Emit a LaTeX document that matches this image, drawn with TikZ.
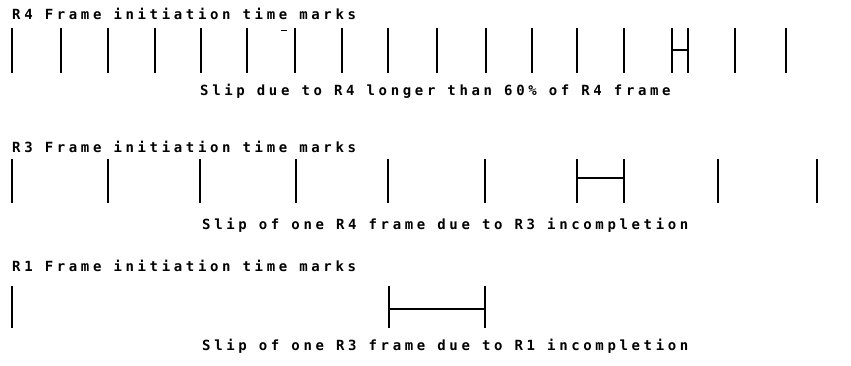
\documentclass[tikz,border=0pt]{standalone}
\usepackage{fontspec}
\newfontfamily\plotfont[LetterSpace=26,BoldFont={DejaVu Sans Mono Bold}]{DejaVu Sans Mono}
\begin{document}
\begin{tikzpicture}[x=1pt,y=-1pt,
  lbl/.style={anchor=base west,inner sep=0pt,font=\plotfont\bfseries\fontsize{14}{16}\selectfont},
  tick/.style={line width=2.3pt},
  bar/.style={line width=1.6pt}]
\useasboundingbox (0,0) rectangle (851,365);
% R4 row
\node[lbl] (t4) at (12,19) {R4 Frame initiation time marks};
\foreach \x in {12,61,108,155,201,247,295,342,388,437,486,532,577,624,672,688,735,786}
  \draw[tick] (\x,28) -- (\x,73);
\draw[line width=1pt] (281,30) -- (287,30);
\coordinate (a4) at (672,50);
\coordinate (b4) at (688,50);
\draw[bar] (a4) -- (b4);
\node[lbl] (s4) at (200,95) {Slip due to R4 longer than 60\% of R4 frame};
% R3 row
\node[lbl] (t3) at (12,152) {R3 Frame initiation time marks};
\foreach \x in {12,108,200,296,388,485,577,624,718,817}
  \draw[tick] (\x,159) -- (\x,203);
\coordinate (a3) at (577,178);
\coordinate (b3) at (624,178);
\draw[bar] (a3) -- (b3);
\node[lbl] (s3) at (202,229) {Slip of one R4 frame due to R3 incompletion};
% R1 row
\node[lbl] (t1) at (12,271.5) {R1 Frame initiation time marks};
\foreach \x in {12,389,485}
  \draw[tick] (\x,286) -- (\x,328);
\coordinate (a1) at (389,309);
\coordinate (b1) at (485,309);
\draw[bar] (a1) -- (b1);
\node[lbl] (s1) at (202,350) {Slip of one R3 frame due to R1 incompletion};
\end{tikzpicture}
\end{document}
